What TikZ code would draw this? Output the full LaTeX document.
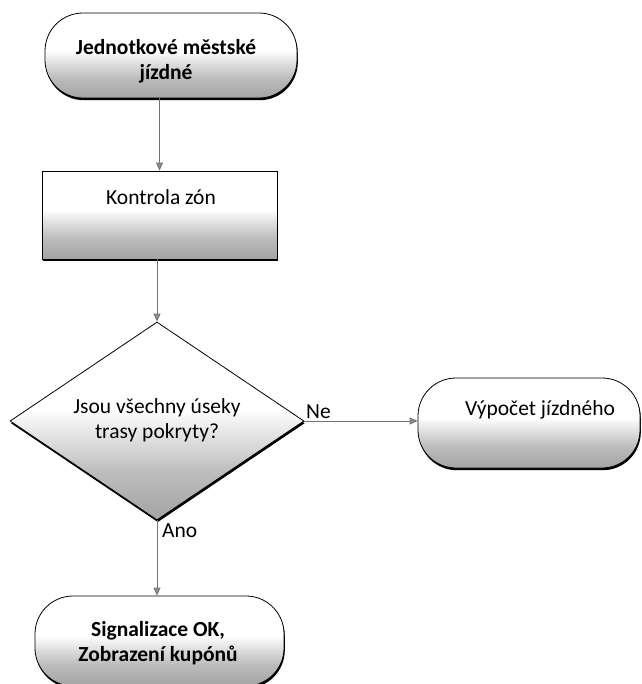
\documentclass[tikz,border=0pt]{standalone}
\usepackage{fontspec}
\setmainfont{Carlito}
\usetikzlibrary{shapes.geometric,shadows,arrows.meta}

% white on top, fading to grey towards the bottom edge
\pgfdeclareverticalshading{flowfill}{100bp}{color(0bp)=(black!36); color(25bp)=(black!36); color(37bp)=(black!26); color(47bp)=(black!10); color(53bp)=(white); color(100bp)=(white)}

\tikzset{
  shaped/.style={draw=black, line width=0.8pt, shading=flowfill, inner sep=0pt,
    general shadow={fill=black, shadow xshift=0.8pt, shadow yshift=-2.2pt}},
  terminal/.style={shaped, rectangle, rounded corners=38pt},
  process/.style={shaped, rectangle},
  decision/.style={shaped, diamond},
  label/.style={font=\fontsize{21.5}{25}\selectfont, align=center, inner sep=0pt},
  boldlabel/.style={label, font=\bfseries\fontsize{21.5}{25}\selectfont},
  flow/.style={draw=black!55, line width=0.8pt, -{Triangle[length=8pt,width=7pt,fill=black!45]}}
}

\begin{document}
\begin{tikzpicture}[x=1pt, y=-1pt]
  \useasboundingbox (0,0) rectangle (641,684);

  % shapes
  \node[terminal, minimum width=252pt, minimum height=85pt] (start) at (171,55.5) {};
  \node[process, minimum width=235pt, minimum height=88pt] (check) at (159.5,215) {};
  \node[decision, minimum width=294pt, minimum height=198pt] (covered) at (157,421) {};
  \node[terminal, minimum width=222pt, minimum height=90pt] (fare) at (529,423) {};
  \node[terminal, minimum width=249pt, minimum height=90pt] (done) at (159.5,641) {};

  % texts
  \node[boldlabel] (starttext) at (166,61) {Jednotkové městské\\jízdné};
  \node[label] (checktext) at (161,197) {Kontrola zón};
  \node[label] (coveredtext) at (157,420) {Jsou všechny úseky\\trasy pokryty?};
  \node[label] (faretext) at (540,410) {Výpočet jízdného};
  \node[boldlabel] (donetext) at (158,643) {Signalizace OK,\\Zobrazení kupónů};

  % connectors
  \draw[flow] (start.south -| check.north) -- (check.north);
  \draw[flow] (check.south -| covered.north) -- (covered.north);
  \draw[flow] (covered.east) -- (covered.east -| fare.west);
  \draw[flow] (covered.south) -- (covered.south |- done.north);

  \node[label, anchor=south west] (no) at (306,419) {Ne};
  \node[label, anchor=west] (yes) at (162,531) {Ano};
\end{tikzpicture}
\end{document}
